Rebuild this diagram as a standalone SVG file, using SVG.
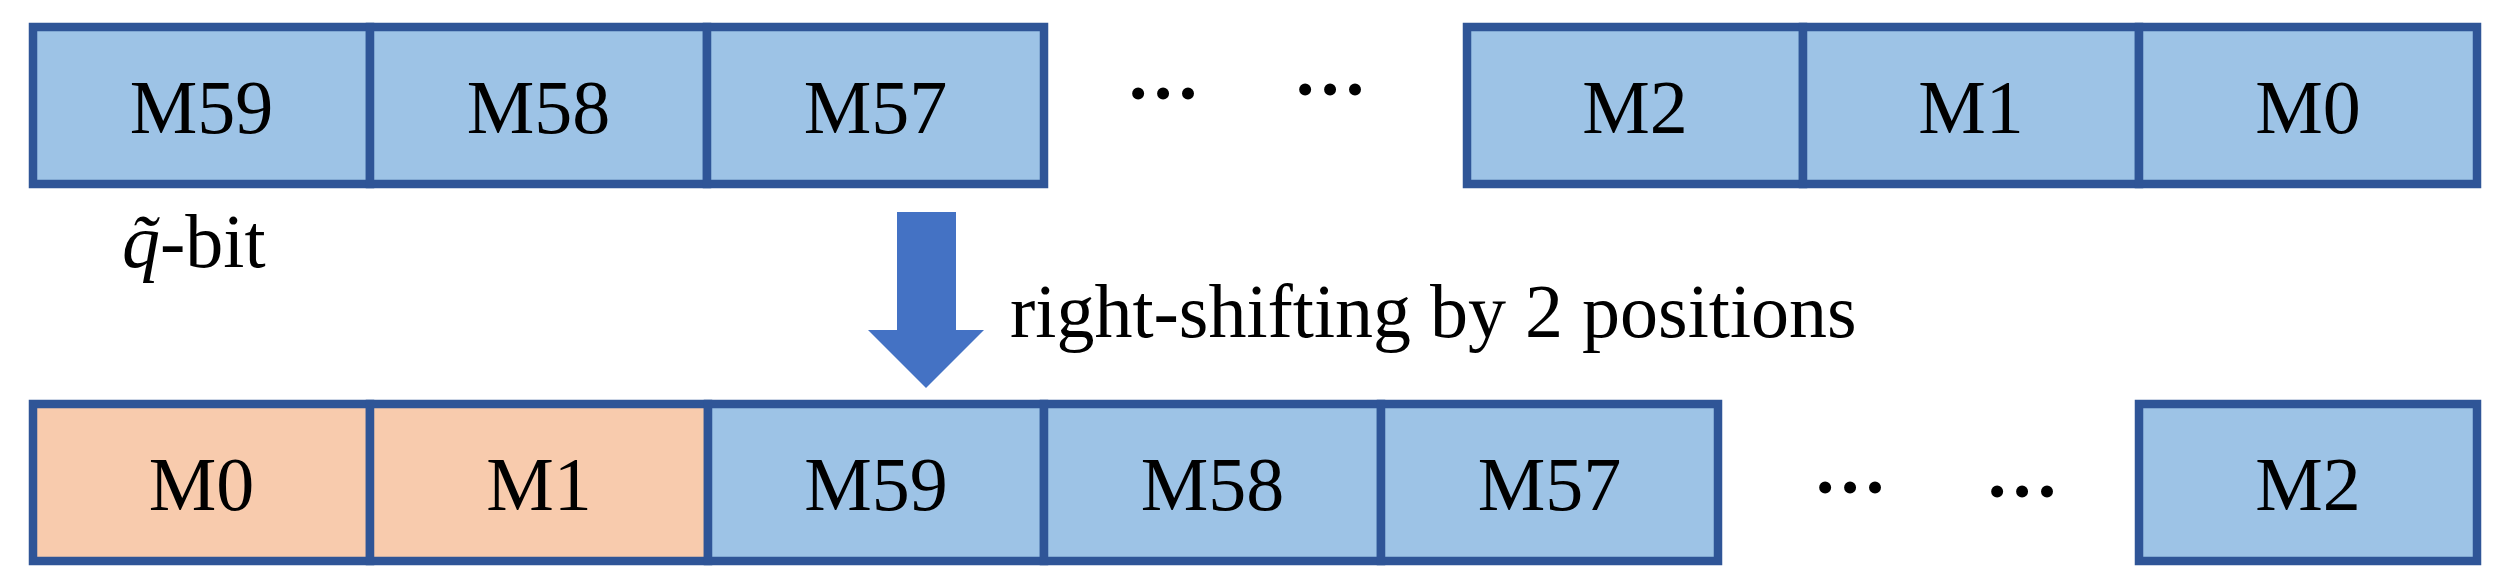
<svg xmlns="http://www.w3.org/2000/svg" width="2499" height="582" viewBox="0 0 2499 582">
<style>
.cell{stroke:#2F5597;stroke-width:8.5}
.blue{fill:#9DC3E6}
.orange{fill:#F8CBAD}
.lbl{font-family:"Liberation Serif","Times New Roman",serif;font-size:76px;fill:#000;text-anchor:middle}
.dots{font-family:"Liberation Serif","Times New Roman",serif;font-size:74px;font-weight:bold;fill:#000;text-anchor:middle}
.txt{font-family:"Liberation Serif","Times New Roman",serif;font-size:76px;fill:#000}
</style>
<rect width="2499" height="582" fill="#fff"/>
<g id="top-row">
<g id="t-m59"><rect class="cell blue" x="33" y="27" width="337" height="157"/><text class="lbl" x="201.5" y="133">M59</text></g>
<g id="t-m58"><rect class="cell blue" x="370" y="27" width="337" height="157"/><text class="lbl" x="538.5" y="133">M58</text></g>
<g id="t-m57"><rect class="cell blue" x="707" y="27" width="337" height="157"/><text class="lbl" x="875.5" y="133">M57</text></g>
<g id="t-dots"><text class="dots" x="1163" y="99">…</text><text class="dots" x="1330" y="95">…</text></g>
<g id="t-m2"><rect class="cell blue" x="1467" y="27" width="336" height="157"/><text class="lbl" x="1635" y="133">M2</text></g>
<g id="t-m1"><rect class="cell blue" x="1803" y="27" width="336" height="157"/><text class="lbl" x="1971" y="133">M1</text></g>
<g id="t-m0"><rect class="cell blue" x="2139" y="27" width="338" height="157"/><text class="lbl" x="2308" y="133">M0</text></g>
</g>
<g id="qbit-label"><text class="txt" x="122" y="267"><tspan font-style="italic">q̃</tspan>-bit</text></g>
<g id="connectors">
<path id="shift-arrow" d="M897,212 L956,212 L956,330 L984,330 L926,388 L868,330 L897,330 Z" fill="#4472C4"/>
</g>
<g id="shift-label"><text class="txt" x="1010" y="337">right-shifting by 2 positions</text></g>
<g id="bottom-row">
<g id="b-m0"><rect class="cell orange" x="33" y="404" width="337" height="157"/><text class="lbl" x="201.5" y="510">M0</text></g>
<g id="b-m1"><rect class="cell orange" x="370" y="404" width="338" height="157"/><text class="lbl" x="539" y="510">M1</text></g>
<g id="b-m59"><rect class="cell blue" x="708" y="404" width="336" height="157"/><text class="lbl" x="876" y="510">M59</text></g>
<g id="b-m58"><rect class="cell blue" x="1044" y="404" width="337" height="157"/><text class="lbl" x="1212.5" y="510">M58</text></g>
<g id="b-m57"><rect class="cell blue" x="1381" y="404" width="337" height="157"/><text class="lbl" x="1549.5" y="510">M57</text></g>
<g id="b-dots"><text class="dots" x="1850" y="493">…</text><text class="dots" x="2022" y="497">…</text></g>
<g id="b-m2"><rect class="cell blue" x="2139" y="404" width="338" height="157"/><text class="lbl" x="2308" y="510">M2</text></g>
</g>
</svg>
